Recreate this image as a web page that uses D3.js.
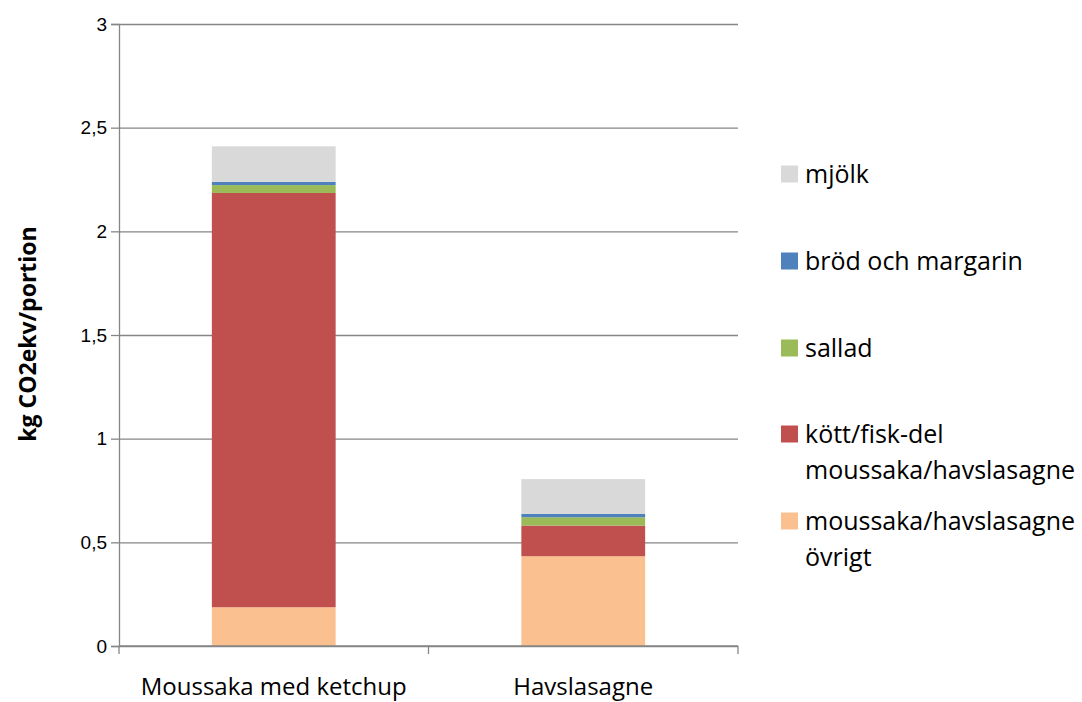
<!DOCTYPE html>
<html>
<head>
<meta charset="utf-8">
<script src="https://cdn.jsdelivr.net/npm/d3@7"></script>
<style>
  body { margin: 0; background: #fff; }
  svg { display: block; font-family: "Open Sans", sans-serif; }
</style>
</head>
<body>
<div id="chart"></div>
<script>
// Data
const categories = ["Moussaka med ketchup", "Havslasagne"];
const seriesNames = ["moussaka/havslasagne övrigt", "kött/fisk-del moussaka/havslasagne", "sallad", "bröd och margarin", "mjölk"];
const ovrigt = [0.187, 0.433];
const kottFisk = [1.998, 0.148];
const sallad = [0.038, 0.040];
const brod = [0.016, 0.016];
const mjolk = [0.171, 0.168];
const yTicks = [0, 0.5, 1, 1.5, 2, 2.5, 3];
const colors = ["#FAC090", "#C0504D", "#9BBB59", "#4F81BD", "#D9D9D9"];
const legendLines = [
  ["mjölk"],
  ["bröd och margarin"],
  ["sallad"],
  ["kött/fisk-del", "moussaka/havslasagne"],
  ["moussaka/havslasagne", "övrigt"]
];

const width = 1082, height = 702;
const margin = { top: 24, right: 344, bottom: 56, left: 119 };

const svg = d3.select("#chart").append("svg")
  .attr("width", width)
  .attr("height", height);

const table = categories.map((c, i) => ({
  cat: c,
  s0: ovrigt[i], s1: kottFisk[i], s2: sallad[i], s3: brod[i], s4: mjolk[i]
}));
const keys = ["s0", "s1", "s2", "s3", "s4"];
const stacked = d3.stack().keys(keys)(table);

const x = d3.scaleBand()
  .domain(categories)
  .range([margin.left, width - margin.right])
  .paddingInner(0.6)
  .paddingOuter(0.3);

const y = d3.scaleLinear()
  .domain([0, 3])
  .range([height - margin.bottom, margin.top]);

// Grid lines
svg.append("g")
  .attr("transform", `translate(${margin.left},0)`)
  .call(d3.axisLeft(y).tickValues(yTicks).tickSize(-(width - margin.right - margin.left)).tickFormat(""))
  .call(g => g.select(".domain").remove())
  .selectAll("line")
  .attr("stroke", "#868686")
  .attr("stroke-width", 1.3);

// Bars
svg.selectAll(".series")
  .data(stacked)
  .enter()
  .append("g")
  .attr("fill", (d, i) => colors[i])
  .selectAll("rect")
  .data(d => d)
  .enter()
  .append("rect")
  .attr("x", d => x(d.data.cat))
  .attr("y", d => y(d[1]))
  .attr("width", x.bandwidth())
  .attr("height", d => y(d[0]) - y(d[1]));

// Y axis
const yAxis = svg.append("g")
  .attr("transform", `translate(${margin.left},0)`)
  .call(d3.axisLeft(y).tickValues(yTicks).tickSize(8).tickPadding(4)
    .tickFormat(d => String(d).replace(".", ",")));
yAxis.select(".domain").attr("stroke", "#868686").attr("stroke-width", 1.3);
yAxis.selectAll("line").attr("stroke", "#868686").attr("stroke-width", 1.3);
yAxis.selectAll("text").attr("font-size", "19px").attr("fill", "#000");

// X axis
const xBoundaries = [margin.left, (margin.left + width - margin.right) / 2, width - margin.right];
const xAxis = svg.append("g")
  .attr("transform", `translate(0,${height - margin.bottom})`);
xAxis.append("line")
  .attr("x1", margin.left).attr("x2", width - margin.right)
  .attr("stroke", "#868686").attr("stroke-width", 1.3);
xAxis.selectAll(".tk")
  .data(xBoundaries)
  .enter()
  .append("line")
  .attr("x1", d => d).attr("x2", d => d)
  .attr("y1", 0).attr("y2", 8)
  .attr("stroke", "#868686").attr("stroke-width", 1.3);
xAxis.selectAll(".lbl")
  .data(categories)
  .enter()
  .append("text")
  .attr("x", d => x(d) + x.bandwidth() / 2)
  .attr("y", 49)
  .attr("text-anchor", "middle")
  .attr("font-size", "24px")
  .attr("fill", "#000")
  .text(d => d);

// Y axis title
svg.append("text")
  .attr("transform", "rotate(-90)")
  .attr("x", -334)
  .attr("y", 36)
  .attr("text-anchor", "middle")
  .attr("font-size", "23px")
  .attr("font-weight", "bold")
  .attr("fill", "#000")
  .text("kg CO2ekv/portion");

// Legend
const legendY = [174, 261, 348, 434, 521];
const legend = svg.append("g");
legendLines.forEach((lines, i) => {
  const ci = colors.length - 1 - i;
  legend.append("rect")
    .attr("x", 781)
    .attr("y", legendY[i] - 8.5)
    .attr("width", 17)
    .attr("height", 17)
    .attr("fill", colors[ci]);
  const t = legend.append("text")
    .attr("x", 805)
    .attr("y", legendY[i])
    .attr("font-size", "25px")
    .attr("fill", "#000");
  lines.forEach((ln, j) => {
    t.append("tspan")
      .attr("x", 805)
      .attr("dy", j === 0 ? "0.35em" : "36px")
      .text(ln);
  });
});
</script>
</body>
</html>
